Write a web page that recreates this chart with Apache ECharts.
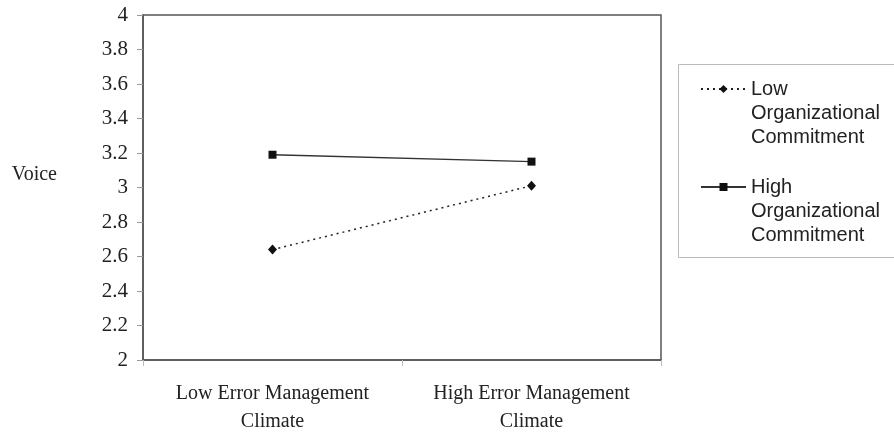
<!DOCTYPE html>
<html>
<head>
<meta charset="utf-8">
<script src="https://cdn.jsdelivr.net/npm/echarts@6/dist/echarts.min.js"></script>
<style>
  html, body { margin: 0; padding: 0; background: #fff; }
  #main { width: 894px; height: 436px; }
</style>
</head>
<body>
<div id="main"></div>
<script>
// categories and values
var climates = ['Low Error Management\nClimate', 'High Error Management\nClimate'];
var lowCommit = [2.64, 3.01];
var highCommit = [3.19, 3.15];
var seriesNames = ['Low\nOrganizational\nCommitment', 'High\nOrganizational\nCommitment'];
var yTicks = { min: 2, max: 4, step: 0.2 };

var myChart = echarts.init(document.getElementById('main'));

var serif = 'Liberation Serif';
var sans = 'Liberation Sans';

var legendText = {
    fontFamily: sans,
    fontSize: 20,
    lineHeight: 24,
    color: '#222'
};

// two blank lines in front so the icon sits on the first real line
function legendLabel(name) {
    return '\n\n' + name;
}

var option = {
    animation: false,
    backgroundColor: '#fff',
    grid: {
        left: 143,
        right: 233,
        top: 15,
        bottom: 75,
        show: true,
        borderColor: '#555',
        borderWidth: 1.5
    },
    legend: [
        {
            data: [seriesNames[0]],
            left: 700,
            top: 29,
            padding: 0,
            itemWidth: 45,
            itemHeight: 10,
            formatter: legendLabel,
            textStyle: legendText
        },
        {
            data: [seriesNames[1]],
            left: 700,
            top: 127,
            padding: 0,
            itemWidth: 45,
            itemHeight: 10,
            formatter: legendLabel,
            textStyle: legendText
        }
    ],
    graphic: [
        {
            type: 'rect',
            shape: { x: 678.5, y: 64.5, width: 260, height: 193 },
            style: { fill: 'none', stroke: '#bbb', lineWidth: 1 },
            silent: true
        }
    ],
    xAxis: {
        type: 'category',
        data: climates,
        boundaryGap: true,
        axisLine: { lineStyle: { color: '#555', width: 1.5 } },
        axisTick: { show: true, length: 6, lineStyle: { color: '#bbb' } },
        axisLabel: {
            fontFamily: serif,
            fontSize: 20,
            lineHeight: 28,
            color: '#222',
            margin: 20
        },
        splitLine: { show: false }
    },
    yAxis: {
        type: 'value',
        min: yTicks.min,
        max: yTicks.max,
        interval: yTicks.step,
        name: 'Voice',
        nameLocation: 'middle',
        nameRotate: 0,
        nameGap: 86,
        nameTextStyle: {
            fontFamily: serif,
            fontSize: 20,
            lineHeight: 26,
            color: '#222',
            verticalAlign: 'bottom'
        },
        axisLine: { show: true, lineStyle: { color: '#555', width: 1.5 } },
        axisTick: { show: true, length: 6, lineStyle: { color: '#999' } },
        axisLabel: {
            fontFamily: serif,
            fontSize: 21,
            color: '#222',
            margin: 15
        },
        splitLine: { show: false }
    },
    series: [
        {
            name: seriesNames[0],
            type: 'line',
            data: lowCommit,
            symbol: 'diamond',
            symbolSize: [9, 10],
            itemStyle: { color: '#111' },
            lineStyle: { color: '#222', width: 1.5, type: [2, 4] }
        },
        {
            name: seriesNames[1],
            type: 'line',
            data: highCommit,
            symbol: 'rect',
            symbolSize: 8,
            itemStyle: { color: '#111' },
            lineStyle: { color: '#333', width: 1.5 }
        }
    ]
};

myChart.setOption(option);
</script>
</body>
</html>
